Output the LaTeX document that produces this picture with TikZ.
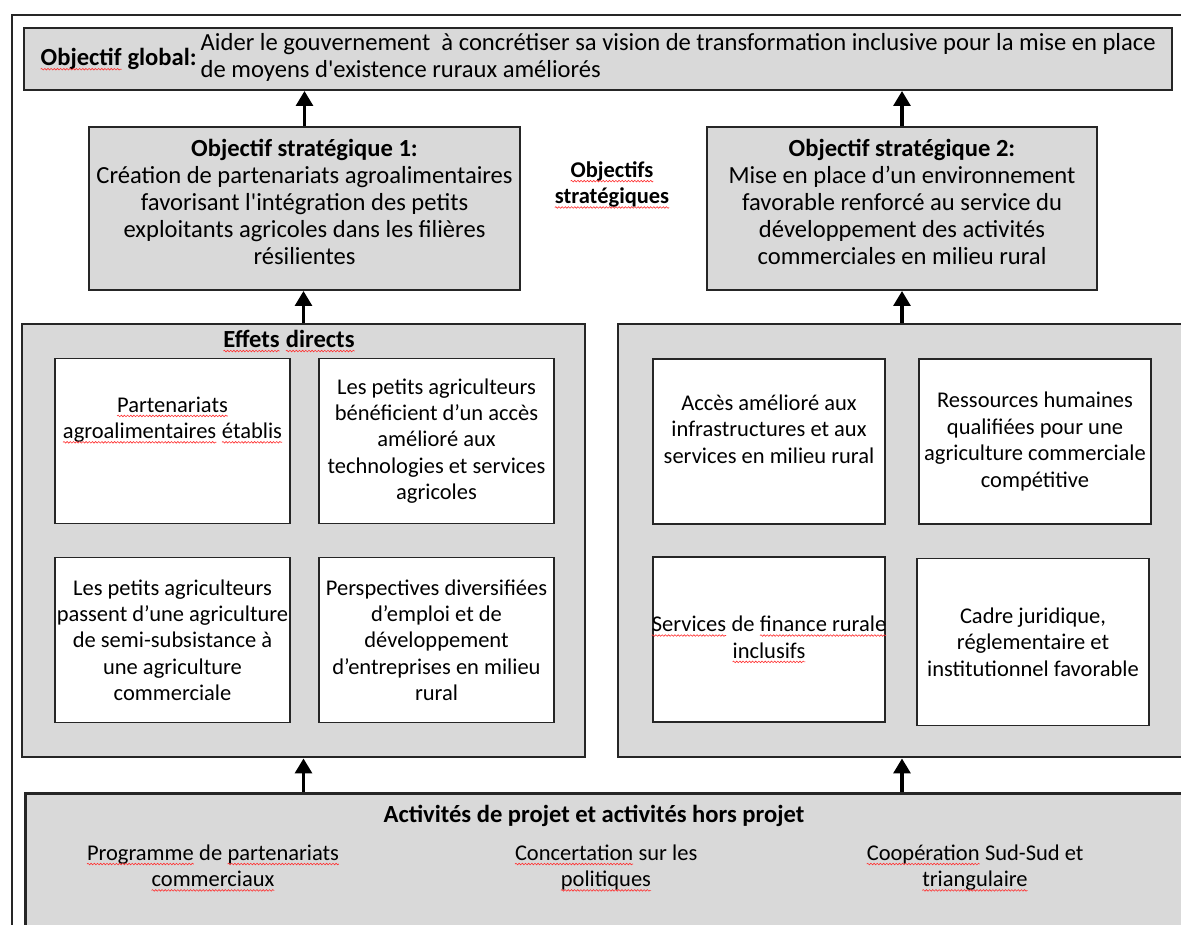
\documentclass[tikz,border=0pt]{standalone}
\usepackage{fontspec}
\setmainfont{Carlito}
\usetikzlibrary{arrows.meta}
\usetikzlibrary{decorations.pathmorphing}
\definecolor{boxgray}{RGB}{217,217,217}
\newcommand\sqg[1]{\tikz[baseline=(w.base)]{\node[shape=rectangle, draw=none, fill=none, inner sep=0pt, outer sep=0pt, minimum width=0pt, minimum height=0pt, anchor=center] (w) {#1};
    \draw[red!80, line width=0.35pt, decorate, decoration={snake, amplitude=0.45pt, segment length=1.8pt}] ([yshift=-2.2pt]w.base west) -- ([yshift=-2.2pt]w.base east);}}
\newcommand\stratfont{\fontsize{14}{15.4}\selectfont}
\newcommand\cellfont{\fontsize{12.8}{15}\selectfont}
\tikzset{
    pxsize/.style 2 args = {minimum width=#1*0.02cm, minimum height=#2*0.02cm},
    framebox/.style = {draw=black!85, line width=1.1pt, inner sep=0pt},
    graybox/.style = {draw=black!85, line width=1.1pt, fill=boxgray, align=center, inner sep=0pt},
    groupbox/.style = {draw=black!85, line width=1.6pt, fill=boxgray, inner sep=0pt},
    cellbox/.style = {draw=black!85, line width=1.1pt, fill=white, align=center, inner sep=0pt, font=\cellfont, pxsize={235}{165}},
    note/.style = {align=center, inner sep=0pt},
    upedge/.style = {-{Triangle[width=9.5pt,length=8.5pt]}, line width=2pt, black}
}

\begin{document}
\begin{tikzpicture}[x=0.02cm, y=-0.02cm]
\useasboundingbox (0,0) rectangle (1181,924);
\clip (0,0) rectangle (1181,924);
%
\node[framebox, pxsize={1200}{940}, anchor=north west] at (11,14) (outer) {};
%
\node[graybox, pxsize={1148}{62}, font=\stratfont] at (598,59) (global) {\textbf{\sqg{Objectif} global:}\,\begin{tabular}{@{}l@{}}Aider le gouvernement \ à concrétiser sa vision de transformation inclusive pour la mise en place\\de moyens d\textquotesingle existence ruraux améliorés\end{tabular}};
\node[graybox, pxsize={431}{163}] at (304.5,208.5) (strat1) {};
\node[note, font=\stratfont] at (304.5,202) (strat1text) {\textbf{Objectif stratégique 1:}\\Création de partenariats agroalimentaires\\favorisant l\textquotesingle intégration des petits\\exploitants agricoles dans les filières\\résilientes};
\node[graybox, pxsize={390}{163}] at (902,208.5) (strat2) {};
\node[note, font=\stratfont] at (902,202) (strat2text) {\textbf{Objectif stratégique 2:}\\Mise en place d’un environnement\\favorable renforcé au service du\\développement des activités\\commerciales en milieu rural};
\node[note, font=\cellfont\bfseries] at (612,185) (stratlabel) {\sqg{Objectifs}\\\sqg{stratégiques}};
%
\node[groupbox, pxsize={563}{433}] at (303.5,540.5) (effL) {};
\node[groupbox, pxsize={568}{433}] at (902,540.5) (effR) {};
\node[note, font=\stratfont\bfseries] at (289,341) (efftitle) {\sqg{Effets} \sqg{directs}};
%
\node[cellbox] at (172.5,441) (L1) {};
\node[note, font=\cellfont] at (172.5,420) (L1text) {\sqg{Partenariats}\\\sqg{agroalimentaires} \sqg{établis}};
\node[cellbox] at (436.5,441) (L2) {Les petits agriculteurs\\bénéficient d’un accès\\amélioré aux\\technologies et services\\agricoles};
\node[cellbox] at (172.5,640) (L3) {Les petits agriculteurs\\passent d’une agriculture\\de semi-subsistance à\\une agriculture\\commerciale};
\node[cellbox] at (436.5,640) (L4) {Perspectives diversifiées\\d’emploi et de\\développement\\d’entreprises en milieu\\rural};
%
\node[cellbox, pxsize={232}{165}] at (769,441.5) (R1) {};
\node[note, font=\cellfont] at (769,429) (R1text) {Accès amélioré aux\\infrastructures et aux\\services en milieu rural};
\node[cellbox, pxsize={232}{165}] at (1035,441.5) (R2) {Ressources humaines\\qualifiées pour une\\agriculture commerciale\\compétitive};
\node[cellbox, pxsize={232}{165}] at (769,639.5) (R3) {};
\node[note, font=\cellfont] at (769,639.5) (R3text) {\sqg{Services} de \sqg{finance rurale}\\\sqg{inclusifs}};
\node[cellbox, pxsize={232}{167}] at (1033,642) (R4) {Cadre juridique,\\réglementaire et\\institutionnel favorable};
%
\node[groupbox, pxsize={1180}{160}, anchor=north west] at (24,792) (act) {};
\node[note, font=\stratfont\bfseries] at (594,816) (acttitle) {Activités de projet et activités hors projet};
\node[note, font=\cellfont] at (213,868) (act1) {\sqg{Programme} de \sqg{partenariats}\\\sqg{commerciaux}};
\node[note, font=\cellfont] at (606,868) (act2) {\sqg{Concertation} sur les\\\sqg{politiques}};
\node[note, font=\cellfont] at (975,868) (act3) {\sqg{Coopération} Sud-Sud et\\\sqg{triangulaire}};
%
\draw[upedge] (strat1.north) -- (strat1.north |- global.south);
\draw[upedge] (strat2.north) -- (strat2.north |- global.south);
\draw[upedge] (effL.north) -- (effL.north |- strat1.south);
\draw[upedge] (effR.north) -- (effR.north |- strat2.south);
\draw[upedge] (effL.south |- act.north) -- (effL.south);
\draw[upedge] (effR.south |- act.north) -- (effR.south);

\end{tikzpicture}
\end{document}
